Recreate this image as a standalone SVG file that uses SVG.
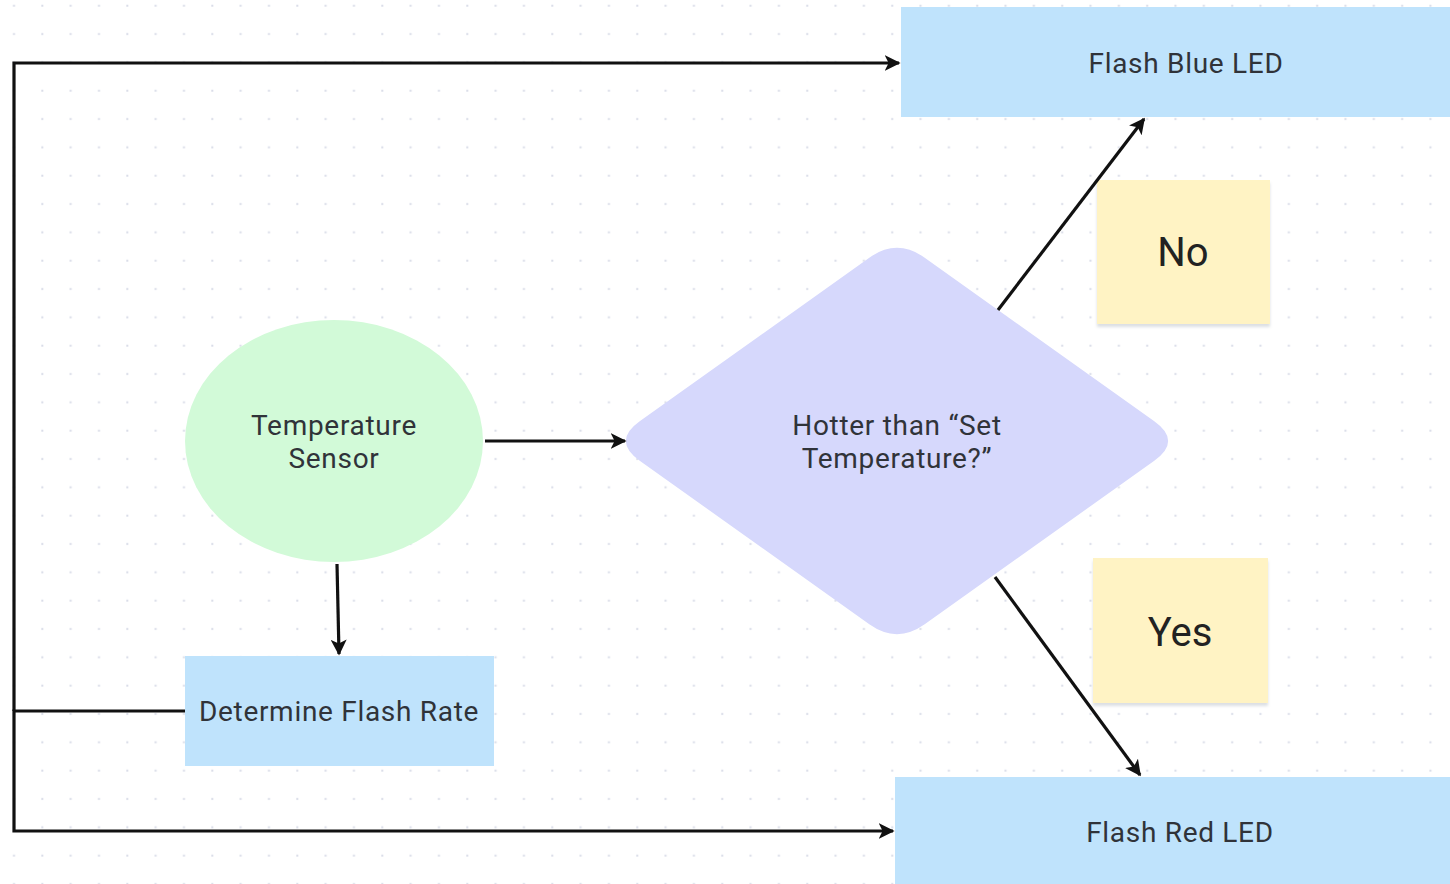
<svg xmlns="http://www.w3.org/2000/svg" width="1450" height="884" viewBox="0 0 1450 884">
  <defs>
    <pattern id="dots" x="0" y="0" width="28.33" height="28.33" patternUnits="userSpaceOnUse">
      <rect x="13" y="4.7" width="2" height="2" fill="#d9dce8"/>
    </pattern>
    <marker id="arrow" viewBox="0 0 10 10" refX="9" refY="5" markerWidth="5" markerHeight="5" orient="auto" markerUnits="strokeWidth">
      <path d="M0,0 L10,5 L0,10 L2.5,5 Z" fill="#111"/>
    </marker>
    <filter id="stickyShadow" x="-10%" y="-10%" width="120%" height="130%">
      <feDropShadow dx="0" dy="3" stdDeviation="1.5" flood-color="#9aa4b0" flood-opacity="0.35"/>
    </filter>
  </defs>
  <style>
    .proc { fill: #bfe3fc; }
    .sticky { fill: #fff3c4; filter: url(#stickyShadow); }
    .label { font-family: Roboto, "Liberation Sans", sans-serif; font-size: 28px; letter-spacing: 0.7px; fill: #303339; text-anchor: middle; dominant-baseline: central; }
    .big { font-family: Roboto, "Liberation Sans", sans-serif; font-size: 40px; fill: #222; text-anchor: middle; dominant-baseline: central; }
    .conn { fill: none; stroke: #111; stroke-width: 3.2; }
  </style>

  <!-- canvas -->
  <rect width="1450" height="884" fill="#ffffff"/>
  <rect width="1450" height="884" fill="url(#dots)"/>

  <!-- shapes -->
  <g id="flash-blue-led">
    <rect class="proc" x="901" y="7" width="549" height="110"/>
    <text class="label" x="1186" y="63">Flash Blue LED</text>
  </g>

  <g id="flash-red-led">
    <rect class="proc" x="895" y="777" width="555" height="107"/>
    <text class="label" x="1180" y="832">Flash Red LED</text>
  </g>

  <g id="temperature-sensor">
    <ellipse cx="334" cy="441" rx="149" ry="121" fill="#d2fad8"/>
    <text class="label" x="334" y="425">Temperature</text>
    <text class="label" x="334" y="458">Sensor</text>
  </g>

  <g id="determine-flash-rate">
    <rect class="proc" x="185" y="656" width="309" height="110"/>
    <text class="label" x="339" y="711">Determine Flash Rate</text>
  </g>

  <g id="hotter-decision">
    <path d="M924.7,257.7 L1154.3,421.3 Q1182,441 1154.3,460.7 L924.7,624.3 Q897,644 869.3,624.3 L639.7,460.7 Q612,441 639.7,421.3 L869.3,257.7 Q897,238 924.7,257.7 Z" fill="#d6d8fc"/>
    <text class="label" x="897" y="425">Hotter than “Set</text>
    <text class="label" x="897" y="458">Temperature?”</text>
  </g>

  <g id="note-no">
    <rect class="sticky" x="1097" y="180" width="173" height="144"/>
    <text class="big" x="1183" y="252">No</text>
  </g>

  <g id="note-yes">
    <rect class="sticky" x="1093" y="558" width="175" height="145"/>
    <text class="big" x="1180" y="632">Yes</text>
  </g>

  <!-- connectors -->
  <g id="connectors">
    <path class="conn" d="M14,711 L14,63 L899,63" marker-end="url(#arrow)"/>
    <path class="conn" d="M185,711 L14,711 L14,831 L893,831" marker-end="url(#arrow)"/>
    <path class="conn" d="M485,441 L625,441" marker-end="url(#arrow)"/>
    <path class="conn" d="M337,564 L339,654" marker-end="url(#arrow)"/>
    <path class="conn" d="M998,310 L1144,119" marker-end="url(#arrow)"/>
    <path class="conn" d="M995,577 L1140,775" marker-end="url(#arrow)"/>
  </g>
</svg>
